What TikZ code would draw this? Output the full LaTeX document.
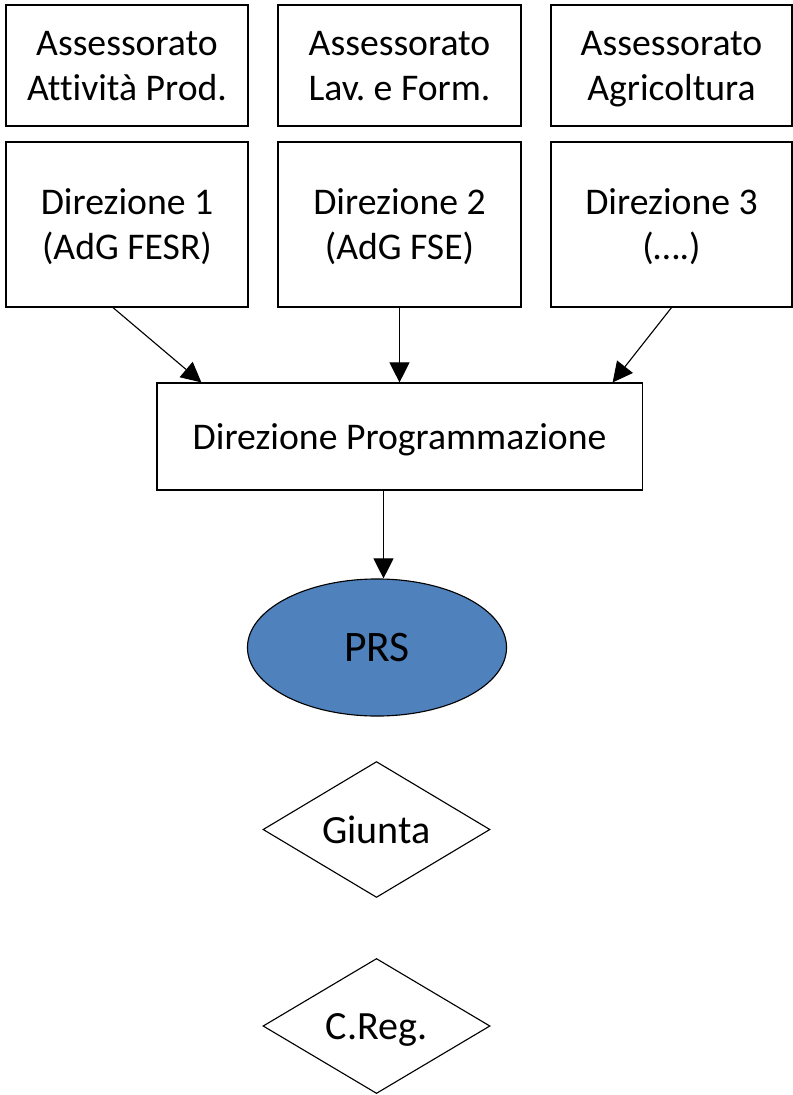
\documentclass[tikz,border=0pt]{standalone}
\usepackage{fontspec}
\setmainfont{Carlito}[Ligatures=NoCommon]
\usepackage{tikz}
\usetikzlibrary{shapes.geometric,arrows.meta}
\definecolor{prsblue}{HTML}{4F81BD}
\frenchspacing

\begin{document}
\begin{tikzpicture}[x=0.025cm,y=-0.025cm]
\useasboundingbox (0,0) rectangle (793,1095);
\begin{scope}[every node/.style={draw,line width=0.8pt,inner sep=0pt,align=center,text depth=0pt,font=\fontsize{26.8}{32}\selectfont}]
\node (0)[minimum width=6.05cm,minimum height=3.025cm] at (127,65.5) {Assessorato\\Attività Prod.};
\node (1)[minimum width=6.075cm,minimum height=3.025cm] at (399.5,65.5) {Assessorato\\Lav. e Form.};
\node (2)[minimum width=6.025cm,minimum height=3.025cm] at (671.5,65.5) {Assessorato\\Agricoltura};

\node (3)[minimum width=6.05cm,minimum height=4.125cm] at (127,224.5) {Direzione 1\\(AdG FESR)};
\node (4)[minimum width=6.075cm,minimum height=4.125cm] at (399.5,224.5) {Direzione 2\\(AdG FSE)};
\node (5)[minimum width=6.025cm,minimum height=4.125cm] at (671.5,224.5) {Direzione 3\\(….)};

\node (6)[minimum width=12.125cm,minimum height=2.675cm] at (399.5,436.5) {Direzione Programmazione};

\node (7)[ellipse,fill=prsblue,minimum width=6.475cm,minimum height=3.425cm,font=\fontsize{31}{36}\selectfont] at (377,647.5) {PRS};

\node (8)[diamond,minimum width=5.675cm,minimum height=3.375cm,font=\fontsize{28.5}{34}\selectfont] at (376.5,829.5) {Giunta};
\node (9)[diamond,minimum width=5.675cm,minimum height=3.375cm,font=\fontsize{28.5}{34}\selectfont] at (376.5,1026) {C.Reg.};

\draw[line width=0.8pt, black, -{Triangle[length=0.5cm,width=0.5cm]}] ([xshift=-0.35cm]3.south) -- ([xshift=1.125cm]6.north west);
\draw[line width=0.8pt, black, -{Triangle[length=0.5cm,width=0.5cm]}] (4.south) -- (6.north);
\draw[line width=0.8pt, black, -{Triangle[length=0.5cm,width=0.5cm]}] (5.south) -- ([xshift=-0.75cm]6.north east);
\draw[line width=0.8pt, black, -{Triangle[length=0.5cm,width=0.5cm]}] ([xshift=-0.4cm]6.south) -- ([xshift=-0.4cm]6.south |- 7.north);
\end{scope}
\end{tikzpicture}
\end{document}
